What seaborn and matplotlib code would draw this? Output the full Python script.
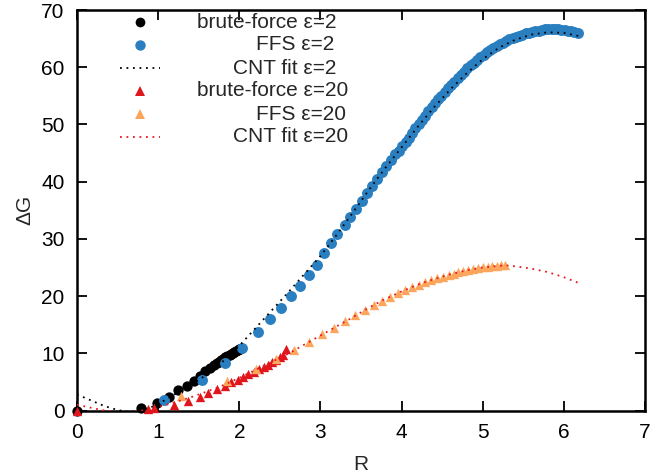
import numpy as np
import pandas as pd
import matplotlib
matplotlib.use("Agg")
import matplotlib.pyplot as plt
import seaborn as sns
from matplotlib.lines import Line2D

# ---------------- data ----------------
bf2_R = [0.0, 0.79, 0.99, 1.13, 1.25, 1.35, 1.44, 1.51, 1.58, 1.64, 1.69, 1.72, 1.75,
         1.78, 1.80, 1.83, 1.85, 1.88, 1.90, 1.92, 1.94, 1.96, 1.98, 2.00, 2.01]
bf2_G = [0.0, 0.4, 1.35, 2.4, 3.5, 4.3, 5.2, 6.1, 6.9, 7.4, 8.0, 8.3, 8.5,
         8.8, 9.0, 9.3, 9.5, 9.7, 9.9, 10.0, 10.2, 10.4, 10.5, 10.7, 10.8]

ffs2_R = [1.07, 1.545, 1.83, 2.03, 2.23, 2.38, 2.52, 2.64, 2.75, 2.86, 2.96, 3.05, 3.13,
          3.21, 3.30, 3.37, 3.44, 3.51, 3.57, 3.64, 3.70, 3.76, 3.81, 3.87, 3.92,
          3.97, 4.01, 4.05, 4.09, 4.13, 4.17, 4.21, 4.25, 4.29, 4.33, 4.37, 4.41,
          4.45, 4.49, 4.53, 4.57, 4.61, 4.65, 4.69, 4.73, 4.77, 4.81, 4.85, 4.89,
          4.93, 4.97, 5.01, 5.05, 5.09, 5.13, 5.17, 5.21, 5.25, 5.29, 5.33, 5.37,
          5.41, 5.45, 5.49, 5.53, 5.57, 5.61, 5.65, 5.69, 5.73, 5.77, 5.81, 5.85,
          5.89, 5.93, 5.97, 6.01, 6.05, 6.09, 6.13, 6.17]
ffs2_G = [1.75, 5.4, 8.3, 11.0, 13.7, 16.0, 18.0, 20.0, 21.8, 23.7, 25.4, 27.5, 29.2,
          30.9, 32.4, 33.9, 35.2, 36.7, 38.0, 39.3, 40.5, 41.7, 42.7, 43.8, 44.9,
          45.4, 46.2, 47.0, 47.7, 48.5, 49.3, 50.0, 50.8, 51.5, 52.3, 53.0, 53.7,
          54.4, 55.0, 55.7, 56.3, 56.9, 57.5, 58.1, 58.7, 59.2, 59.8, 60.3, 60.8,
          61.3, 61.8, 62.2, 62.6, 63.0, 63.4, 63.7, 64.0, 64.3, 64.6, 64.9, 65.1,
          65.3, 65.5, 65.7, 65.9, 66.0, 66.2, 66.3, 66.4, 66.5, 66.6, 66.6, 66.6,
          66.6, 66.6, 66.5, 66.5, 66.4, 66.3, 66.1, 65.9]

fit2_R = [0.0, 0.1, 0.2, 0.3, 0.4, 0.5, 0.6, 0.7, 0.8, 0.9, 1.0, 1.2, 1.4, 1.6, 1.8,
          2.0, 2.2, 2.4, 2.6, 2.8, 3.0, 3.2, 3.4, 3.6, 3.8, 4.0, 4.2, 4.4, 4.6, 4.8,
          5.0, 5.2, 5.4, 5.6, 5.8, 6.0, 6.2]
fit2_G = [2.8, 2.2, 1.6, 1.0, 0.5, 0.1, -0.2, -0.2, 0.1, 0.5, 1.1, 2.8, 4.4, 6.3, 8.6,
          11.3, 14.4, 17.5, 20.6, 23.8, 27.0, 30.7, 34.6, 38.6, 42.4, 46.0, 49.6, 53.0,
          56.1, 58.9, 61.4, 63.4, 64.8, 65.7, 66.1, 66.0, 65.4]

bf20_R = [0.0, 0.87, 0.95, 1.20, 1.37, 1.51, 1.62, 1.72, 1.82, 1.90, 1.98, 2.05, 2.11,
          2.18, 2.24, 2.30, 2.35, 2.40, 2.45, 2.50, 2.54, 2.58]
bf20_G = [0.0, 0.2, 0.45, 1.0, 1.7, 2.4, 3.1, 3.7, 4.3, 4.9, 5.3, 5.9, 6.3,
          6.8, 7.2, 7.6, 8.0, 8.4, 8.8, 9.3, 9.7, 10.7]

ffs20_R = [1.28, 1.85, 2.20, 2.45, 2.68, 2.86, 3.02, 3.17, 3.30, 3.43, 3.55, 3.66, 3.76,
           3.86, 3.95, 4.04, 4.13, 4.21, 4.29, 4.36, 4.44, 4.51, 4.58, 4.64, 4.70,
           4.76, 4.82, 4.88, 4.94, 5.00, 5.06, 5.12, 5.17, 5.22, 5.28]
ffs20_G = [2.5, 5.2, 7.3, 9.0, 10.6, 12.0, 13.3, 14.5, 15.7, 16.7, 17.5, 18.5, 19.2,
           19.9, 20.5, 21.1, 21.6, 22.0, 22.5, 22.8, 23.1, 23.4, 23.7, 23.9, 24.2,
           24.4, 24.6, 24.7, 24.9, 25.0, 25.1, 25.2, 25.3, 25.4, 25.4]

fit20_R = [0.0, 0.1, 0.2, 0.3, 0.4, 0.5, 0.6, 0.7, 0.8, 0.9, 1.0, 1.2, 1.4, 1.6, 1.8,
           2.0, 2.2, 2.4, 2.6, 2.8, 3.0, 3.2, 3.4, 3.6, 3.8, 4.0, 4.2, 4.4, 4.6, 4.8,
           5.0, 5.2, 5.3, 5.4, 5.6, 5.8, 6.0, 6.18]
fit20_G = [1.0, 0.7, 0.4, 0.1, -0.1, -0.3, -0.3, -0.2, 0.0, 0.3, 0.6, 1.4, 2.3, 3.3, 4.4,
           5.7, 7.1, 8.5, 9.9, 11.5, 13.1, 14.7, 16.3, 18.0, 19.5, 20.8, 22.0, 22.95,
           23.8, 24.5, 25.0, 25.3, 25.35, 25.2, 24.8, 24.2, 23.3, 22.3]

labels = ["brute-force \u03b5=2", "FFS \u03b5=2", "CNT fit \u03b5=2",
          "brute-force \u03b5=20", "FFS \u03b5=20", "CNT fit \u03b5=20"]
x_ticks = [0, 1, 2, 3, 4, 5, 6, 7]
y_ticks = [0, 10, 20, 30, 40, 50, 60, 70]

# ---------------- style ----------------
sns.set_style("ticks")
plt.rcParams['font.family'] = ['Liberation Sans', 'DejaVu Sans']
FS = 15

BLACK = "#000000"
BLUE = "#2a7fc0"
RED = "#e0161c"
ORANGE = "#fca55c"
REDFIT = "#e8191e"

fig = plt.figure(figsize=(6.52, 4.76), dpi=100)
ax = fig.add_axes([77/652, 1 - 410.5/476, (645-77)/652, (410.5-10)/476])

def df(r, g):
    return pd.DataFrame({"R": r, "G": g})

dot = (0, (1.0, 2.6))
sns.lineplot(data=df(fit2_R, fit2_G), x="R", y="G", ax=ax, color=BLACK, lw=1.3,
             linestyle=dot, sort=False, zorder=4)
sns.lineplot(data=df(fit20_R, fit20_G), x="R", y="G", ax=ax, color=REDFIT, lw=1.3,
             linestyle=dot, sort=False, zorder=4)

sns.scatterplot(data=df(bf2_R, bf2_G), x="R", y="G", ax=ax, color=BLACK, s=55,
                marker="o", linewidth=0, zorder=3, clip_on=False)
sns.scatterplot(data=df(ffs2_R, ffs2_G), x="R", y="G", ax=ax, color=BLUE, s=62,
                marker="o", linewidth=0, zorder=3)
sns.scatterplot(data=df(bf20_R, bf20_G), x="R", y="G", ax=ax, color=RED, s=45,
                marker="^", linewidth=0, zorder=3, clip_on=False)
sns.scatterplot(data=df(ffs20_R, ffs20_G), x="R", y="G", ax=ax, color=ORANGE, s=45,
                marker="^", linewidth=0, zorder=3)

ax.set_xlim(0, 7)
ax.set_ylim(0, 70)
ax.set_xticks(x_ticks)
ax.set_yticks(y_ticks)
ax.set_xticklabels([str(t) for t in x_ticks], fontsize=FS)
ax.set_yticklabels([str(t) for t in y_ticks], fontsize=FS)
ax.tick_params(direction="in", length=7, width=1.3, top=True, right=True,
               colors="black", pad=9)
for sp in ax.spines.values():
    sp.set_visible(True)
    sp.set_linewidth(1.8)
    sp.set_color("black")
ax.set_xlabel("R", fontsize=FS, labelpad=9)
ax.set_ylabel("\u0394G", fontsize=FS, labelpad=5)

# ---------------- legend (gnuplot-like key) ----------------
W, H = 568.0, 400.5
def ax_xy(px, py):
    return ((px - 77) / W, 1 - (py - 10) / H)

rows_y = [22, 45, 68, 91, 114, 137]
text_x = [197, 256, 233, 197, 256, 233]
sample_x = 140
handles = [dict(marker="o", color=BLACK, ms=7, ls="none"),
           dict(marker="o", color=BLUE, ms=7.5, ls="none"),
           dict(marker=None, color=BLACK, ls=dot, lw=1.3),
           dict(marker="^", color=RED, ms=7, ls="none"),
           dict(marker="^", color=ORANGE, ms=7, ls="none"),
           dict(marker=None, color=REDFIT, ls=dot, lw=1.3)]
for lab, py, tx, h in zip(labels, rows_y, text_x, handles):
    xa, ya = ax_xy(tx, py)
    ax.text(xa, ya, lab, transform=ax.transAxes, fontsize=FS, ha="left", va="center")
    if h["marker"] is None:
        x0, _ = ax_xy(sample_x - 20, py)
        x1, _ = ax_xy(sample_x + 20, py)
        ax.add_line(Line2D([x0, x1], [ya, ya], transform=ax.transAxes, color=h["color"],
                           ls=h["ls"], lw=h["lw"]))
    else:
        xs, _ = ax_xy(sample_x, py)
        ax.add_line(Line2D([xs], [ya], transform=ax.transAxes, marker=h["marker"],
                           color=h["color"], ms=h["ms"], ls="none", mew=0))

fig.savefig("out.png", dpi=100)
